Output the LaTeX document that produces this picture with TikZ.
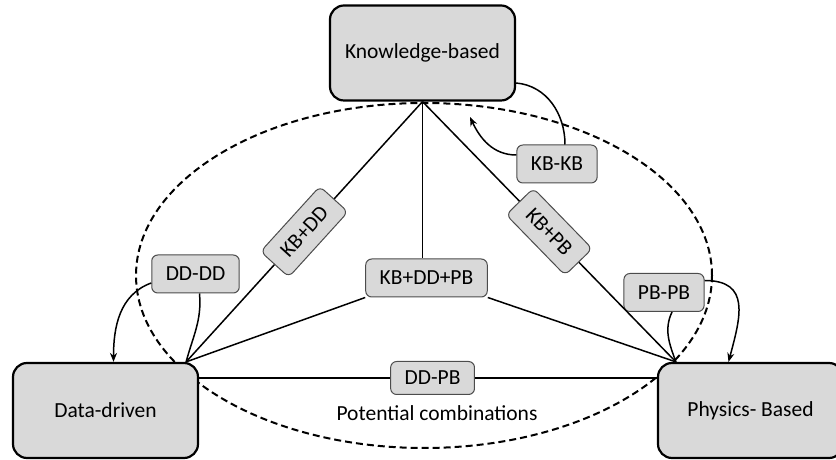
\documentclass[tikz,border=0pt]{standalone}
\usepackage{fontspec}
\setmainfont{Carlito}
\usetikzlibrary{arrows.meta}
\definecolor{boxgray}{RGB}{217,217,217}
\begin{document}
\begin{tikzpicture}[x=1pt, y=1pt, >={Stealth[length=9pt,width=7pt]},
        bigbox/.style={draw, line width=2.2pt, rounded corners=14pt, fill=boxgray, minimum width=185pt, minimum height=95pt, font=\fontsize{21.5}{26}\selectfont},
        tagbox/.style={draw=black!70, line width=1pt, rounded corners=6pt, fill=boxgray, minimum height=38pt, inner xsep=14pt, font=\fontsize{21.5}{26}\selectfont},
        link/.style={line width=1.5pt}]
        \useasboundingbox (0,0) rectangle (836,460);
        \draw[line width=2pt, dash pattern=on 7pt off 4pt] (424,184.5) ellipse [x radius=288, y radius=172.5];

        \node[name=kb, bigbox] at (422.5,407) {Knowledge-based};
        \node[name=dd, bigbox] at (105.5,49.5) {Data-driven};
        \node[name=pb, bigbox] at (750.5,49.5) {Physics- Based};
        \coordinate (ddc) at ([xshift=-13pt]dd.north east);
        \coordinate (pbc) at ([xshift=19pt]pb.north west);

        \node[name=kbddpb, tagbox] at (426.5,182) {KB+DD+PB};
        \node[name=kbkb, tagbox] at (557,296) {KB-KB};
        \node[name=dddd, tagbox] at (195.5,186) {DD-DD};
        \node[name=pbpb, tagbox] at (664,167.5) {PB-PB};
        \node[name=potential, font=\fontsize{21.5}{26}\selectfont] at (437,47) {Potential combinations};

        \draw[link] (kb.south) -- node[name=kbdd, tagbox, sloped] {KB+DD} (ddc);
        \draw[link] (kb.south) -- node[name=kbpb, tagbox, sloped] {KB+PB} (pbc);
        \draw[link] (kb.south) -- (kb.south |- kbddpb.north);
        \draw[link] (kbddpb.south west) -- (ddc);
        \draw[link] (kbddpb.south east) -- (pbc);
        \draw[link] ([yshift=32.5pt]dd.east) -- node[name=ddpb, tagbox, minimum height=33pt, pos=0.51] {DD-PB} ([yshift=32.5pt]pb.west);

        % self combinations
        \coordinate (kbtip) at (470,343);
        \draw[link] ([xshift=8pt]kbkb.north) to[out=90, in=-5] ([yshift=-30pt]kb.east);
        \draw[link, ->] ([yshift=9pt]kbkb.west) to[out=180, in=-65] (kbtip);
        \draw[link] ([xshift=4pt]dddd.south) to[out=-85, in=75] (ddc);
        \draw[link, ->] ([yshift=-9pt]dddd.west) to[out=200, in=90] ([xshift=8pt]dd.north);
        \draw[link] ([xshift=8pt]pbpb.south) to[out=-115, in=110] (pbc);
        \draw[link, ->] ([yshift=12pt]pbpb.east) to[out=0, in=75, looseness=1.4] ([xshift=-22pt]pb.north);
    \end{tikzpicture}
\end{document}
